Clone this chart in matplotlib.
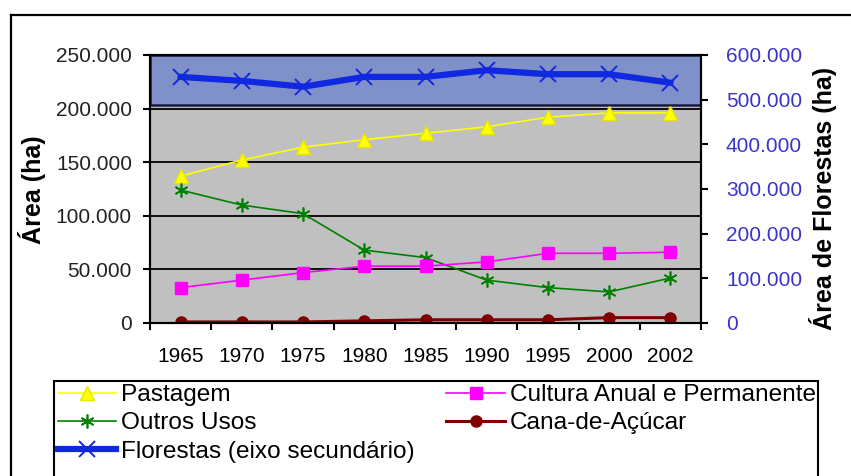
import matplotlib
matplotlib.use("Agg")
import matplotlib.pyplot as plt
from matplotlib.lines import Line2D
from matplotlib.patches import Rectangle
import numpy as np

years = ["1965", "1970", "1975", "1980", "1985", "1990", "1995", "2000", "2002"]
pastagem = [137000, 152000, 164000, 171000, 177000, 183000, 192000, 196000, 196000]
cultura = [33000, 40000, 47000, 53000, 53000, 57000, 65000, 65000, 66000]
outros = [124000, 110000, 102000, 68000, 61000, 40000, 33000, 29000, 42000]
cana = [1000, 1000, 1000, 2000, 3000, 3000, 3000, 5000, 5000]
florestas = [551000, 542000, 529000, 551000, 551000, 566000, 557000, 557000, 538000]

left_ticks = [0, 50000, 100000, 150000, 200000, 250000]
right_ticks = [0, 100000, 200000, 300000, 400000, 500000, 600000]

def fmt(v):
    return "0" if v == 0 else f"{v:,}".replace(",", ".")

plt.rcParams['font.family'] = ['Liberation Sans', 'DejaVu Sans']

W, H = 851, 476
fig = plt.figure(figsize=(W / 100, H / 100), dpi=100)
fig.patch.set_facecolor("white")

def fx(px):
    return px / W

def fy(py):
    return 1 - py / H

# outer chart border (cropped)
fig.add_artist(Line2D([fx(11), fx(11)], [fy(15), 0], color="black", lw=1.6))
fig.add_artist(Line2D([fx(11), 1], [fy(15), fy(15)], color="black", lw=1.6))

x0, x1, y0, y1 = 150, 701, 55, 323
ax = fig.add_axes([fx(x0), fy(y1), fx(x1) - fx(x0), fy(y0) - fy(y1)])
ax.set_facecolor("#C0C0C0")
x = np.arange(len(years))
ax.set_xlim(-0.5, len(years) - 0.5)
ax.set_ylim(0, 250000)

ax.axhspan(203500, 250000, facecolor="#8090C8", edgecolor="#1A1A40", lw=1.8, zorder=0.5)
for v in left_ticks[1:-1]:
    ax.axhline(v, color="black", lw=1.3, zorder=0.8)

ax.plot(x, pastagem, color="#FFFF00", lw=1.2, marker="^", ms=10, mfc="#FFFF00", mec="#E6E600", zorder=3, label="Pastagem")
ax.plot(x, outros, color="#008000", lw=1.2, marker=(6, 2, 0), ms=10, mec="#008000", mew=1.2, zorder=3, label="Outros Usos")
ax.plot(x, cultura, color="#FF00FF", lw=1.2, marker="s", ms=9, mfc="#FF00FF", mec="#FF00FF", zorder=3, label="Cultura Anual e Permanente")
ax.plot(x, cana, color="#800000", lw=2.2, marker="o", ms=8, mfc="#800000", mec="#800000", zorder=3, label="Cana-de-Açúcar")

ax2 = ax.twinx()
ax2.set_ylim(0, 600000)
ax2.plot(x, florestas, color="#1028E0", lw=4.5, marker="x", ms=11, mew=1.4, mec="#1028E0", zorder=4, label="Florestas (eixo secundário)")

for a in (ax, ax2):
    for s in a.spines.values():
        s.set_color("black")
        s.set_linewidth(1.5)

ax.set_xticks(np.arange(-0.5, len(years), 1.0))
ax.set_xticklabels([])
ax.set_xticks(x, minor=True)
ax.set_xticklabels(years, minor=True, fontsize=15, color="black")
ax.tick_params(axis="x", which="major", direction="out", length=5, width=1.5)
ax.tick_params(axis="x", which="minor", length=0, pad=17)

ax.set_yticks(left_ticks)
ax.set_yticklabels([fmt(v) for v in left_ticks], fontsize=15, color="#222222")
ax.tick_params(axis="y", direction="out", length=5, width=1.5, pad=8)

ax2.set_yticks(right_ticks)
ax2.set_yticklabels([fmt(v) for v in right_ticks], fontsize=15, color="#3C34C8")
ax2.tick_params(axis="y", direction="out", length=5, width=1.5, pad=13)

fig.text(fx(32), fy(190), "Área (ha)", rotation=90, ha="center", va="center", fontsize=18, fontweight="bold")
fig.text(fx(823), fy(198), "Área de Florestas (ha)", rotation=90, ha="center", va="center", fontsize=18, fontweight="bold")

# legend frame (cropped at bottom)
fig.add_artist(Rectangle((fx(54), -0.05), fx(818) - fx(54), fy(381) + 0.05, transform=fig.transFigure,
                         facecolor="white", edgecolor="black", lw=1.5))
h1, l1 = ax.get_legend_handles_labels()
h2, l2 = ax2.get_legend_handles_labels()
handles = [h1[0], h1[1], h2[0], h1[2], h1[3]]
labels = [l1[0], l1[1], l2[0], l1[2], l1[3]]
leg = fig.legend(handles, labels, ncol=2, loc="upper left", bbox_to_anchor=(fx(58), fy(384)),
                 frameon=False, fontsize=17.6, handlelength=2.38, handletextpad=0.2,
                 columnspacing=1.3, labelspacing=0.25, borderaxespad=0, borderpad=0)

fig.savefig("out.png", dpi=100)
